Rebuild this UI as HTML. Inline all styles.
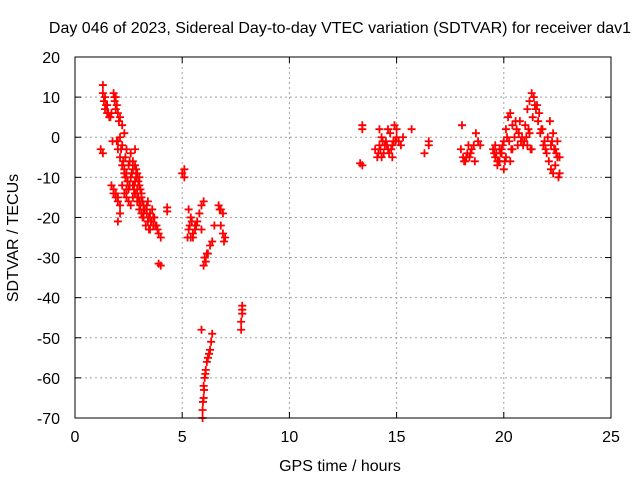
<!DOCTYPE html>
<html><head><meta charset="utf-8"><style>
body{margin:0;background:#fff}
svg{display:block;font-family:"Liberation Sans",sans-serif;font-size:16px}
</style></head><body>
<svg id="chart" width="640" height="480">
<text x="340" y="33" text-anchor="middle">Day 046 of 2023, Sidereal Day-to-day VTEC variation (SDTVAR) for receiver dav1</text>
<text x="340" y="471" text-anchor="middle">GPS time / hours</text>
<text transform="translate(18,238) rotate(-90)" text-anchor="middle">SDTVAR / TECUs</text>
<g id="grid"></g><g id="ticks"></g><g id="marks"></g>
<rect x="75" y="57" width="536" height="361" fill="none" stroke="#000"/>
</svg>
<script>
const xTicks=[0,5,10,15,20,25];
const yTicks=[20,10,0,-10,-20,-30,-40,-50,-60,-70];
const hours=[1.3,1.3,1.35,1.4,1.5,1.6,1.7,1.8,1.9,1.85,2.0,2.1,1.2,1.3,2.0,2.1,2.2,2.0,2.1,2.2,2.3,2.4,2.5,2.6,2.7,2.8,2.9,3.0,3.1,2.2,2.3,2.4,2.5,1.7,1.8,1.9,2.0,2.1,2.1,2.0,2.5,2.6,2.7,2.8,2.9,3.0,3.1,3.2,3.3,3.4,3.5,3.6,3.7,3.8,3.9,4.0,2.6,2.7,2.8,2.9,3.0,3.2,3.4,3.5,3.9,4.0,4.3,4.3,2.3,2.2,2.4,1.4,1.5,1.9,2.35,2.45,2.55,2.65,2.75,2.85,2.95,3.05,3.15,3.25,3.35,3.45,3.55,3.65,1.75,1.95,2.15,
1.45,1.55,1.65,1.85,1.95,2.05,2.25,2.35,2.45,2.55,2.65,2.75,2.85,2.95,3.05,3.15,3.25,3.35,3.45,3.55,3.65,3.75,3.85,2.7,2.8,2.9,3.0,3.1,3.2,1.8,1.9,2.0,2.3,2.4,
5.1,5.0,5.1,5.3,5.4,5.3,5.4,5.5,5.6,5.7,5.8,5.9,6.0,5.6,6.0,6.1,6.2,6.3,6.4,6.5,5.9,6.7,6.8,6.9,6.9,7.0,6.8,5.35,5.45,5.25,6.05,6.15,5.5,5.65,6.75,6.95,
5.9,5.95,5.95,6.0,6.0,6.05,6.1,6.15,6.2,6.3,6.35,6.4,5.97,6.02,6.08,6.25,7.8,7.8,7.75,7.75,7.8,
13.3,13.4,13.4,13.4,14.0,14.1,14.2,14.2,14.3,14.4,14.5,14.6,14.7,14.8,14.9,15.0,15.1,14.8,15.2,15.3,15.7,16.3,16.5,16.5,14.3,14.6,15.0,14.15,14.45,14.65,14.95,14.25,14.35,14.55,14.75,14.85,
18.0,18.1,18.2,18.3,18.4,18.5,18.6,18.8,18.9,18.7,19.5,19.6,19.7,19.8,19.9,19.6,20.0,20.1,20.0,20.1,20.2,20.3,20.4,20.5,20.6,20.7,20.8,20.9,21.0,21.1,21.2,21.3,21.4,21.5,21.6,21.7,21.8,21.9,22.0,22.1,22.2,22.3,22.4,22.5,22.2,22.3,22.5,22.6,21.3,21.1,20.4,19.8,18.15,18.35,19.55,19.75,19.95,20.15,20.55,20.85,21.25,21.45,22.15,22.45,22.55,22.35,21.95,20.25,
18.05,18.25,18.45,18.65,19.65,19.85,20.05,20.35,20.65,20.75,20.95,21.05,21.15,21.35,21.55,21.65,21.75,21.85,22.05,22.25,22.4,22.6,19.7,19.9,20.3,21.2];
const values=[13,11,9,7,6,5,6,11,10,9,6,5,-3,-4,-1,0,-2,-3,-5,-7,-8,-9,-7,-10,-8,-11,-13,-12,-14,-12,-14,-15,-13,-12,-13,-14,-15,-17,-19,-21,-16,-17,-15,-14,-16,-18,-19,-20,-22,-21,-19,-18,-20,-22,-24,-25,-4,-6,-3,-9,-10,-17,-16,-23,-31.5,-32,-17.5,-18.5,1,3,-3,10,8,7,-5,-11,-12,-9,-12,-10,-15,-17,-20,-18,-19,-23,-21,-22,-1,-1,-3,
8,6,5,10,8,4,-6,-10,-11,-6,-9,-13,-8,-11,-13,-16,-18,-17,-20,-21,-20,-22,-23,-12,-7,-14,-16,-15,-18,-14,-15,-16,-9,-13,
-8,-9,-10,-18,-20,-23,-25,-24,-22,-21,-19,-17,-16,-23,-32,-31,-29,-27,-26,-22,-23,-17,-18,-19,-24,-25,-22,-22,-21,-25,-30,-29,-25,-22,-18,-26,
-48,-70,-68,-65,-62,-60,-58,-56,-55,-53,-51,-49,-66,-63,-59,-54,-42,-44,-46,-48,-43,
-6.5,-7,2,3,-3,-5,-2,2,0,-4,-1,-3,1,-2,3,0,-1,-5,-2,0,2,-4,-2,-1,-5,2,2,-4,-2,-4,-1,-3,-1,-2,-3,-1,
-3,-5,-6,-4,-5,-3,-2,-1,-2,1,-3,-5,-7,-6,-4,-2,-8,-5,-1,2,5,6,3,0,2,1,-1,-2,3,7,9,11,10,7,4,1,2,-1,-4,-6,-8,-9,-7,-5,-2,1,-1,-5,-3,-2,-3,-3,-6,-2,-4,-6,-2,0,4,0,-3,8,4,-4,-10,-3,-3,-1,3,
-5,-4,-6,-4,-4,-6,-3,-2,4,-1,0,2,5,8,6,2,-2,0,-1,-3,-9,-6,-3,-6,1,10];
const NS="http://www.w3.org/2000/svg";
const X0=75,X1=611,Y0=57,Y1=418;
function xs(h){return X0+(h-0)/(25-0)*(X1-X0);}
function ys(v){return Y1-(v+70)/(20+70)*(Y1-Y0);}
function mk(tag,attrs,parent){const e=document.createElementNS(NS,tag);for(const k in attrs)e.setAttribute(k,attrs[k]);parent.appendChild(e);return e;}
const grid=document.getElementById('grid'),ticks=document.getElementById('ticks'),marks=document.getElementById('marks');
xTicks.forEach(t=>{const x=xs(t);
 if(t>0&&t<25){const g=mk('line',{x1:x,x2:x,y1:Y0,y2:Y1,stroke:'#a0a0a0','stroke-dasharray':'2,3'},grid);
 
 }
 mk('line',{x1:x,x2:x,y1:Y1,y2:Y1-6,stroke:'#000'},ticks);
 mk('line',{x1:x,x2:x,y1:Y0,y2:Y0+6,stroke:'#000'},ticks);
 const l=mk('text',{x:x,y:Y1+24,'text-anchor':'middle'},ticks);l.textContent=t;
 
 });
yTicks.forEach(t=>{const y=ys(t);
 if(t>-70&&t<20){const g=mk('line',{x1:X0,x2:X1,y1:y,y2:y,stroke:'#a0a0a0','stroke-dasharray':'2,3'},grid);
 
 }
 mk('line',{x1:X0,x2:X0+6,y1:y,y2:y,stroke:'#000'},ticks);
 mk('line',{x1:X1,x2:X1-6,y1:y,y2:y,stroke:'#000'},ticks);
 const l=mk('text',{x:X0-15,y:y+6,'text-anchor':'end'},ticks);l.textContent=t;
 
 });
for(let i=0;i<hours.length;i++){const x=xs(hours[i]),y=ys(values[i]);
 const p=mk('path',{d:`M${x-4},${y}H${x+4}M${x},${y-4}V${y+4}`,stroke:'#f00','stroke-width':1.8,fill:'none'},marks);
 
 }
</script>
</body></html>
